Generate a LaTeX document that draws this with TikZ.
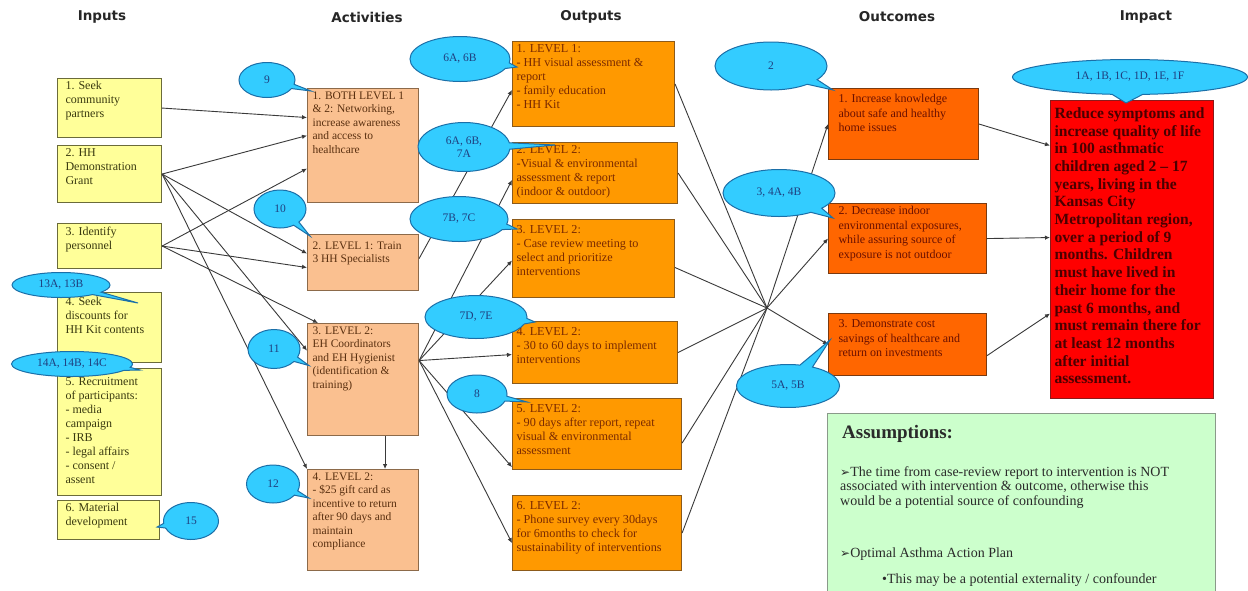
\documentclass[tikz,border=0pt]{standalone}
\usepackage{fontspec}
\setmainfont{Liberation Serif}
\newfontfamily\hdrfont{DejaVu Sans}
\newfontfamily\symfont{DejaVu Sans}
\usetikzlibrary{shapes.callouts,arrows.meta}

\definecolor{inFill}{HTML}{FFFF99}
\definecolor{inDraw}{HTML}{6B6B3A}
\definecolor{inText}{HTML}{3A3A10}
\definecolor{actFill}{HTML}{FAC090}
\definecolor{actDraw}{HTML}{8C6A4A}
\definecolor{actText}{HTML}{5A3010}
\definecolor{outFill}{HTML}{FF9900}
\definecolor{outDraw}{HTML}{8C5A1A}
\definecolor{outText}{HTML}{7A2A00}
\definecolor{ocFill}{HTML}{FF6600}
\definecolor{ocDraw}{HTML}{7A3A10}
\definecolor{ocText}{HTML}{6A1000}
\definecolor{impFill}{HTML}{FF0000}
\definecolor{impDraw}{HTML}{8B1A1A}
\definecolor{impText}{HTML}{4A0000}
\definecolor{bubFill}{HTML}{33CCFF}
\definecolor{bubDraw}{HTML}{1B6FA8}
\definecolor{bubText}{HTML}{1F3F7F}
\definecolor{asmFill}{HTML}{CCFFCC}
\definecolor{asmDraw}{HTML}{8A9A8A}
\definecolor{asmText}{HTML}{2A2A2A}
\definecolor{lineCol}{HTML}{3A3A3A}

% top-aligned box content of fixed size
\newcommand\boxcontent[3]{\parbox[c][#2][t]{#1}{\raggedright #3}}

\tikzset{
  boxbase/.style={draw, line width=1.1pt, inner ysep=3pt, anchor=north west,
    font=\fontsize{11.5}{13.5}\selectfont},
  inbox/.style={boxbase, fill=inFill, draw=inDraw, text=inText, inner xsep=8pt,
    font=\fontsize{12}{14}\selectfont},
  actbox/.style={boxbase, fill=actFill, draw=actDraw, text=actText, inner xsep=5pt},
  outbox/.style={boxbase, fill=outFill, draw=outDraw, text=outText, inner xsep=4pt,
    font=\fontsize{12.2}{14}\selectfont},
  ocbox/.style={boxbase, fill=ocFill, draw=ocDraw, text=ocText, inner xsep=10pt,
    font=\fontsize{12}{14.5}\selectfont},
  impbox/.style={boxbase, fill=impFill, draw=impDraw, text=impText, inner xsep=4pt,
    font=\fontsize{15.6}{17.7}\selectfont\bfseries},
  hdr/.style={font=\hdrfont\bfseries\fontsize{13.5}{15}\selectfont, text=black!85},
  bubble/.style={ellipse callout, draw=bubDraw, fill=bubFill, line width=1pt,
    inner sep=0pt, text=bubText, align=center,
    font=\fontsize{11.5}{12.5}\selectfont},
  link/.style={draw=lineCol, line width=0.9pt},
  arr/.style={link, -{Latex[length=5pt,width=4.5pt]}},
}

\begin{document}
\begin{tikzpicture}[x=1pt,y=-1pt]
\useasboundingbox (0,0) rectangle (1248,590);
\fill[white] (0,0) rectangle (1248,590);

% column headers
\node[hdr] (h1) at (102,17) {Inputs};
\node[hdr] (h2) at (367,17) {Activities};
\node[hdr] (h3) at (591,17) {Outputs};
\node[hdr] (h4) at (897,17) {Outcomes};
\node[hdr] (h5) at (1146,17) {Impact};

% inputs
\node[inbox] (in1) at (57,78)  {\boxcontent{88pt}{53pt}{1. Seek\\community\\partners}};
\node[inbox] (in2) at (57,145) {\boxcontent{88pt}{51pt}{2. HH\\Demonstration\\Grant}};
\node[inbox] (in3) at (57,223) {\boxcontent{88pt}{39pt}{3. Identify\\personnel}};
\node[inbox] (in4) at (57,292) {\boxcontent{88pt}{64pt}{\vspace*{2pt}4. Seek\\discounts for\\HH Kit contents}};
\node[inbox] (in5) at (57,368) {\boxcontent{88pt}{121pt}{\vspace*{6pt}5. Recruitment\\of participants:\\- media\\campaign\\- IRB\\- legal affairs\\- consent /\\assent}};
\node[inbox] (in6) at (57,500) {\boxcontent{86pt}{33pt}{6. Material\\development}};

% activities
\node[actbox] (act1) at (307,88)  {\boxcontent{101pt}{108pt}{1. BOTH LEVEL 1\\\& 2: Networking,\\increase awareness\\and access to\\healthcare}};
\node[actbox] (act2) at (307,234) {\boxcontent{101pt}{50pt}{\vspace*{4pt}2. LEVEL 1: Train\\3 HH Specialists}};
\node[actbox] (act3) at (307,323) {\boxcontent{101pt}{106pt}{3. LEVEL 2:\\EH Coordinators\\and EH Hygienist\\(identification \&\\training)}};
\node[actbox] (act4) at (307,469) {\boxcontent{101pt}{95pt}{4. LEVEL 2:\\- \$25 gift card as\\incentive to return\\after 90 days and\\maintain\\compliance}};

% outputs
\node[outbox] (out1) at (512,41)  {\boxcontent{154pt}{79pt}{1. LEVEL 1:\\- HH visual assessment \&\\report\\- family education\\- HH Kit}};
\node[outbox] (out2) at (512,142) {\boxcontent{157pt}{55pt}{2. LEVEL 2:\\-Visual \& environmental\\assessment \& report\\(indoor \& outdoor)}};
\node[outbox] (out3) at (512,219) {\boxcontent{154pt}{72pt}{\vspace*{3pt}3. LEVEL 2:\\- Case review meeting to\\select and prioritize\\interventions}};
\node[outbox] (out4) at (512,321) {\boxcontent{157pt}{56pt}{\vspace*{3pt}4. LEVEL 2:\\- 30 to 60 days to implement\\interventions}};
\node[outbox] (out5) at (512,398) {\boxcontent{161pt}{65pt}{\vspace*{3pt}5. LEVEL 2:\\- 90 days after report, repeat\\visual \& environmental\\assessment}};
\node[outbox] (out6) at (512,495) {\boxcontent{161pt}{69pt}{\vspace*{3pt}6. LEVEL 2:\\- Phone survey every 30days\\for 6months to check for\\sustainability of interventions}};

% outcomes
\node[ocbox] (oc1) at (828,88)  {\boxcontent{130pt}{65pt}{\vspace*{3pt}1. Increase knowledge\\about safe and healthy\\home issues}};
\node[ocbox] (oc2) at (828,203) {\boxcontent{138pt}{64pt}{2. Decrease indoor\\environmental exposures,\\while assuring source of\\exposure is not outdoor}};
\node[ocbox] (oc3) at (828,313) {\boxcontent{138pt}{56pt}{\vspace*{3pt}3. Demonstrate cost\\savings of healthcare and\\return on investments}};

% impact
\node[impbox] (imp) at (1050,100) {\boxcontent{155pt}{292pt}{\vspace*{4pt}Reduce symptoms and\\increase quality of life\\in 100 asthmatic\\children aged 2 -- 17\\years, living in the\\Kansas City\\Metropolitan region,\\over a period of 9\\months. Children\\must have lived in\\their home for the\\past 6 months, and\\must remain there for\\at least 12 months\\after initial\\assessment.}};

% assumptions panel
\node[draw=asmDraw, fill=asmFill, line width=1.2pt, anchor=north west,
      minimum width=388pt, minimum height=182pt, inner sep=0pt] (asm) at (827,413) {};
\node[anchor=west, inner sep=0pt, text=asmText,
      font=\fontsize{19}{22}\selectfont\bfseries] (asmT) at (842,434) {Assumptions:};
\node[anchor=north west, inner sep=0pt, align=left, text=asmText,
      font=\fontsize{14}{14.6}\selectfont] (asmA) at (840,466)
  {{\symfont\fontsize{12}{14.6}\selectfont ➢}The time from case-review report to intervention is NOT\\
   associated with intervention \& outcome, otherwise this\\
   would be a potential source of confounding};
\node[anchor=north west, inner sep=0pt, text=asmText,
      font=\fontsize{14}{14.6}\selectfont] (asmB) at (840,548)
  {{\symfont\fontsize{12}{14.6}\selectfont ➢}Optimal Asthma Action Plan};
\node[anchor=north west, inner sep=0pt, text=asmText,
      font=\fontsize{14}{14.6}\selectfont] (asmC) at (882,573)
  {\textbullet This may be a potential externality / confounder};

% inputs -> activities
\draw[arr] (in1.east) -- ([yshift=28pt]act1.west);
\draw[arr] (in2.east) -- ([yshift=10pt]act1.west);
\draw[arr] (in2.east) -- ([yshift=9pt]act2.west);
\draw[arr] (in2.east) -- ([yshift=29pt]act3.west);
\draw[arr] (in2.east) -- (act4.north west);
\draw[arr] (in3.east) -- ([yshift=-23pt]act1.west);
\draw[arr] (in3.east) -- ([yshift=-5pt]act2.west);
\draw[arr] (in3.east) -- ([xshift=11pt]act3.north west);
\draw[arr] ([xshift=22pt]act3.south) -- ([xshift=22pt]act4.north);

% activities -> outputs
\draw[arr] ([yshift=4pt]act2.east) -- ([yshift=-6pt]out1.west);
\draw[arr] ([yshift=19pt]act3.east) -- ([yshift=-7pt]out2.west);
\draw[arr] ([yshift=19pt]act3.east) -- ([yshift=-2pt]out3.west);
\draw[arr] ([yshift=19pt]act3.east) -- ([yshift=-2pt]out4.west);
\draw[arr] ([yshift=19pt]act3.east) -- ([yshift=3pt]out5.south west);
\draw[arr] ([yshift=19pt]act3.east) -- ([yshift=-10pt]out6.west);

% outputs -> outcomes through a common junction
\coordinate (hub) at (767,308);
\draw[link] (out1.east) -- (hub);
\draw[link] (out2.east) -- (hub);
\draw[link] ([yshift=-9pt]out3.east) -- (hub);
\draw[link] (out4.east) -- (hub);
\draw[link] ([yshift=-9pt]out5.east) -- (hub);
\draw[link] (out6.east) -- (hub);
\draw[arr] (hub) -- (oc1.west);
\draw[arr] (hub) -- (oc2.west);
\draw[arr] (hub) -- (oc3.west);

% outcomes -> impact
\draw[arr] (oc1.east) -- ([yshift=104pt]imp.west);
\draw[arr] (oc2.east) -- ([yshift=12pt]imp.west);
\draw[arr] ([yshift=-11pt]oc3.east) -- ([yshift=-64pt]imp.west);

% reference callouts
\node[bubble, minimum width=56pt, minimum height=35pt,
      callout absolute pointer={([xshift=4pt,yshift=-3pt]act1.north west)}] (b9) at (267,80) {9};
\node[bubble, minimum width=52pt, minimum height=38pt,
      callout absolute pointer={([xshift=3pt,yshift=-2pt]act2.north west)}] (b10) at (280,209) {10};
\node[bubble, minimum width=52pt, minimum height=39pt,
      callout absolute pointer={([xshift=2pt,yshift=14pt]act3.west)}] (b11) at (274,349) {11};
\node[bubble, minimum width=53pt, minimum height=38pt,
      callout absolute pointer={([xshift=2pt,yshift=22pt]act4.west)}] (b12) at (273,484) {12};
\node[bubble, minimum width=100pt, minimum height=45pt,
      callout absolute pointer={([xshift=5pt,yshift=17pt]out1.west)}] (b6a) at (460,59) {6A, 6B};
\node[bubble, minimum width=92pt, minimum height=49pt,
      callout absolute pointer={([xshift=43pt,yshift=-3pt]out2.north west)}] (b6b) at (464,147) {6A, 6B,\\7A};
\node[bubble, minimum width=98pt, minimum height=45pt,
      callout absolute pointer={([xshift=5pt,yshift=-10pt]out3.north west)}] (b7b) at (459,219) {7B, 7C};
\node[bubble, minimum width=102pt, minimum height=43pt,
      callout absolute pointer={([xshift=23pt,yshift=-1pt]out4.north west)}] (b7d) at (476,317) {7D, 7E};
\node[bubble, minimum width=60pt, minimum height=38pt,
      callout absolute pointer={([xshift=15pt,yshift=-4pt]out5.north west)}] (b8) at (477,394) {8};
\node[bubble, minimum width=112pt, minimum height=48pt,
      callout absolute pointer={([xshift=5pt,yshift=-2pt]oc1.north west)}] (b2) at (771,66) {2};
\node[bubble, minimum width=112pt, minimum height=47pt,
      callout absolute pointer={([xshift=5pt,yshift=-15pt]oc2.north west)}] (b3) at (779,193) {3, 4A, 4B};
\node[bubble, minimum width=103pt, minimum height=43pt,
      callout absolute pointer={([xshift=2pt,yshift=-27pt]oc3.north west)}] (b5) at (788,386) {5A, 5B};
\node[bubble, minimum width=235pt, minimum height=35pt,
      callout absolute pointer={([xshift=-6pt,yshift=-3pt]imp.north)}] (b1) at (1130,77) {1A, 1B, 1C, 1D, 1E, 1F};
\node[bubble, minimum width=98pt, minimum height=25pt,
      callout absolute pointer={([xshift=81pt,yshift=-11pt]in4.north west)}] (b13) at (61,285) {13A, 13B};
\node[bubble, minimum width=121pt, minimum height=25pt,
      callout absolute pointer={([xshift=83pt,yshift=-2pt]in5.north west)}] (b14) at (72,364) {14A, 14B, 14C};
\node[bubble, minimum width=55pt, minimum height=37pt,
      callout absolute pointer={([xshift=-3pt,yshift=-7pt]in6.east)}] (b15) at (191,521) {15};
\end{tikzpicture}
\end{document}
